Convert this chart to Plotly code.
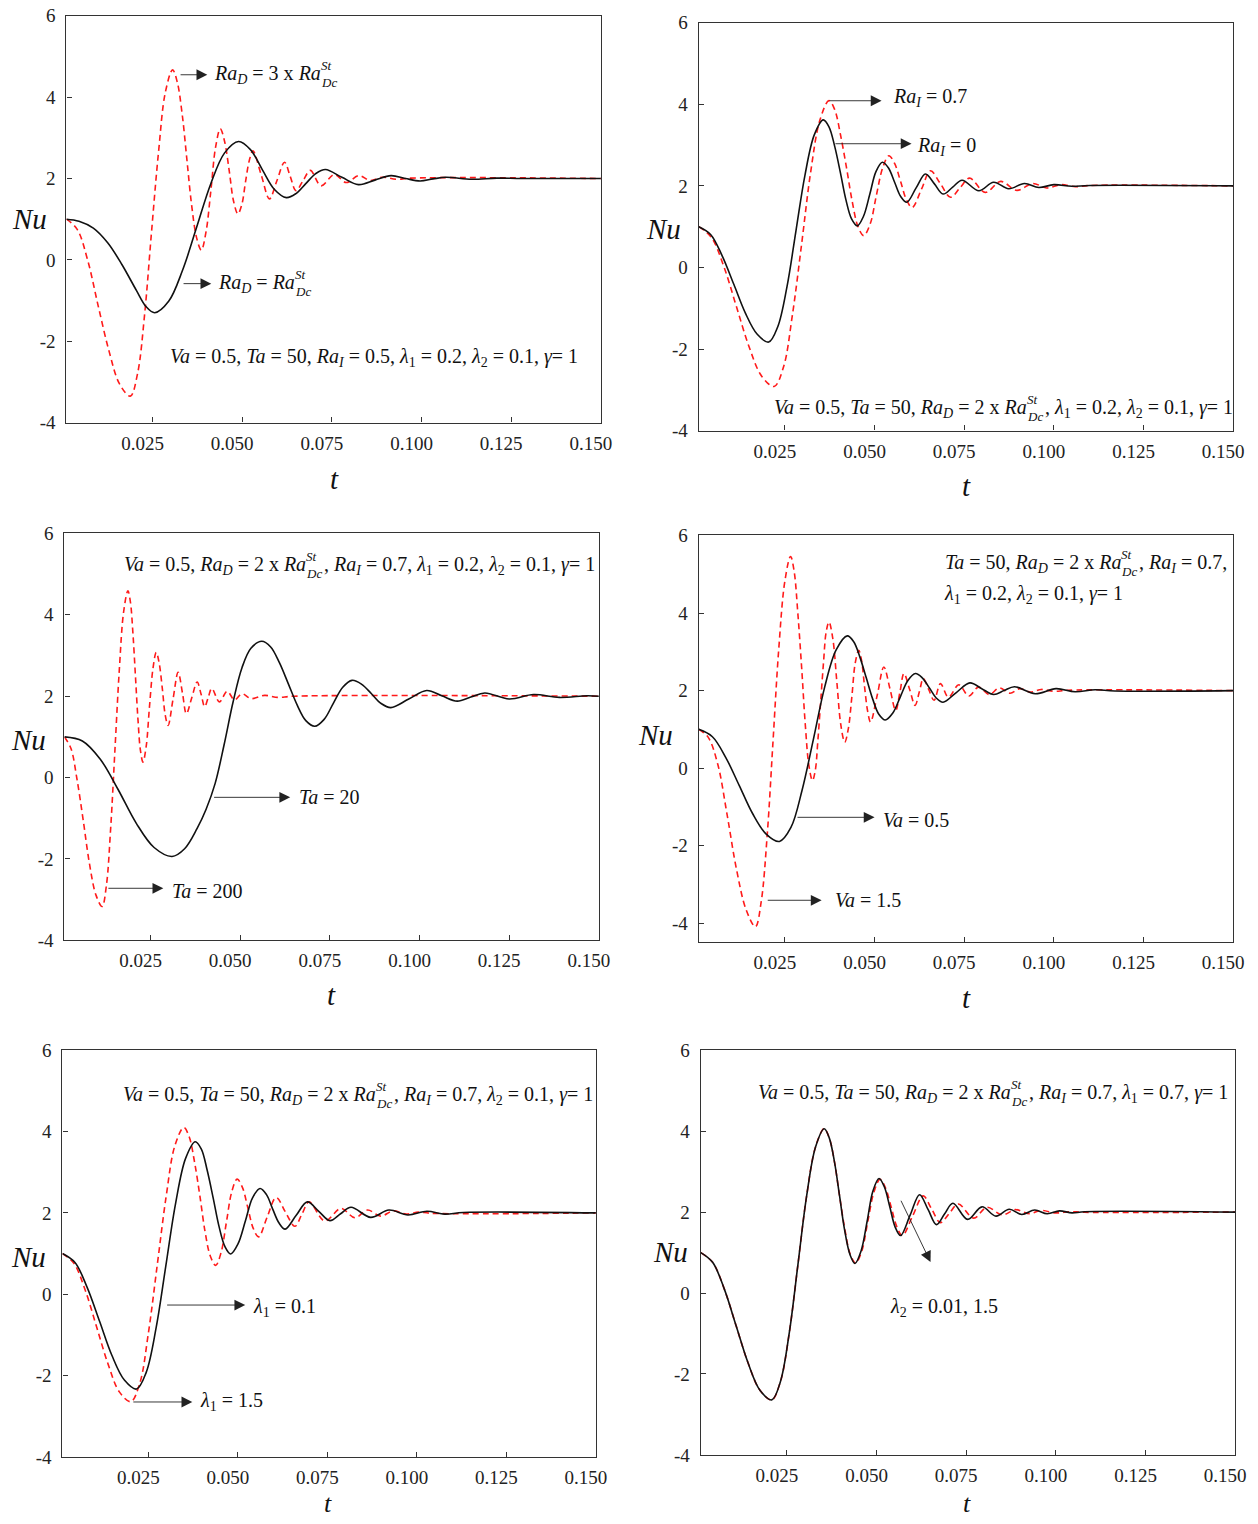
import plotly.graph_objects as go

W, H = 1258, 1524
FONT = "Liberation Serif"

# ---------------- data ----------------
x_ticks = [0.025, 0.050, 0.075, 0.100, 0.125, 0.150]
x_tick_text = ["0.025", "0.050", "0.075", "0.100", "0.125", "0.150"]
y_ticks = [-4, -2, 0, 2, 4, 6]
y_tick_text = ["-4", "-2", "0", "2", "4", "6"]

# Panel 1 : Ra_D = Ra_Dc^St (black) / Ra_D = 3 x Ra_Dc^St (red)
p1_black_t = [0.001, 0.0045, 0.0085, 0.0125, 0.0165, 0.0205, 0.0232, 0.0256, 0.0295, 0.0334, 0.0373,
              0.0412, 0.0451, 0.049, 0.0523, 0.0556, 0.059, 0.0623, 0.065, 0.0678, 0.0705, 0.0732,
              0.0778, 0.0824, 0.087, 0.0915, 0.0955, 0.0996, 0.1032, 0.1068, 0.114, 0.121, 0.128, 0.150]
p1_black_nu = [1.0, 0.95, 0.78, 0.42, -0.12, -0.75, -1.15, -1.3, -1.02, -0.25, 0.8,
               1.86, 2.63, 2.91, 2.71, 2.22, 1.73, 1.53, 1.63, 1.88, 2.12, 2.22,
               2.03, 1.85, 1.96, 2.07, 2.0, 1.94, 1.99, 2.03, 1.98, 2.01, 2.0, 2.0]
p1_red_t = [0.001, 0.004, 0.0069, 0.0099, 0.0129, 0.0158, 0.0188, 0.0208, 0.0228, 0.0247, 0.0267, 0.0286,
            0.0306, 0.0319, 0.0333, 0.0346, 0.0359, 0.0373, 0.0386, 0.0399, 0.0413, 0.0426, 0.0439,
            0.0451, 0.0464, 0.0476, 0.0488, 0.0499, 0.0509, 0.052, 0.053, 0.0553, 0.0576, 0.0597,
            0.0618, 0.0634, 0.065, 0.067, 0.069, 0.072, 0.0757, 0.079, 0.0825, 0.0858, 0.089, 0.093,
            0.097, 0.150]
p1_red_nu = [1.0, 0.75, 0.0, -1.15, -2.25, -3.05, -3.35, -2.81, -1.34, 0.66, 2.67, 4.13,
             4.67, 4.37, 3.56, 2.45, 1.35, 0.54, 0.24, 0.68, 1.73, 2.78, 3.22,
             2.91, 2.18, 1.44, 1.13, 1.36, 1.9, 2.45, 2.68, 2.09, 1.50, 1.95,
             2.40, 2.05, 1.70, 1.95, 2.2, 1.82, 2.1, 1.9, 2.07, 1.95, 2.03, 1.98,
             2.01, 2.0]

# Panel 2 : Ra_I = 0 (black) / Ra_I = 0.7 (red)
p2_black_t = [0.001, 0.0043, 0.0075, 0.0108, 0.014, 0.0173, 0.0205, 0.023, 0.0256, 0.0281, 0.0306, 0.0332,
              0.0357, 0.0373, 0.0389, 0.0405, 0.042, 0.0436, 0.0452, 0.0469, 0.0487, 0.0504, 0.0522,
              0.0539, 0.0556, 0.0573, 0.059, 0.0616, 0.0642, 0.0667, 0.0691, 0.0718, 0.0744, 0.0791,
              0.0832, 0.0874, 0.0918, 0.0958, 0.100, 0.105, 0.110, 0.150]
p2_black_nu = [1.0, 0.81, 0.29, -0.42, -1.12, -1.64, -1.83, -1.46, -0.47, 0.9, 2.26, 3.25,
               3.62, 3.45, 2.97, 2.32, 1.67, 1.19, 1.02, 1.25, 1.8, 2.35, 2.58,
               2.44, 2.09, 1.74, 1.60, 1.95, 2.29, 2.05, 1.80, 1.97, 2.14, 1.88,
               2.09, 1.93, 2.06, 1.96, 2.03, 1.99, 2.01, 2.0]
p2_red_t = [0.001, 0.0045, 0.008, 0.0115, 0.015, 0.0185, 0.022, 0.0246, 0.0271, 0.0297, 0.0322, 0.0348,
            0.0373, 0.0389, 0.0405, 0.0422, 0.0438, 0.0454, 0.047, 0.0488, 0.0505, 0.0523, 0.054,
            0.0556, 0.0573, 0.0589, 0.0605, 0.0631, 0.0656, 0.0684, 0.0712, 0.0739, 0.0765, 0.0809,
            0.0852, 0.0897, 0.0941, 0.098, 0.102, 0.106, 0.110, 0.150]
p2_red_nu = [1.0, 0.74, 0.02, -0.96, -1.94, -2.66, -2.92, -2.45, -1.17, 0.59, 2.34, 3.62,
             4.09, 3.87, 3.26, 2.44, 1.61, 1.0, 0.78, 1.07, 1.76, 2.45, 2.74,
             2.55, 2.1, 1.66, 1.47, 1.92, 2.37, 2.05, 1.72, 1.96, 2.19, 1.84,
             2.11, 1.89, 2.06, 1.95, 2.03, 1.98, 2.01, 2.0]

# Panel 3 : Ta = 20 (black) / Ta = 200 (red)
p3_black_t = [0.001, 0.006, 0.011, 0.016, 0.021, 0.026, 0.031, 0.0345, 0.038, 0.0405, 0.043, 0.0455,
              0.048, 0.0505, 0.053, 0.056, 0.0585, 0.0609, 0.0634, 0.0659, 0.0683, 0.0708, 0.0734,
              0.076, 0.0786, 0.0812, 0.0839, 0.0866, 0.0893, 0.092, 0.097, 0.102, 0.1062, 0.1105,
              0.1143, 0.1182, 0.125, 0.1318, 0.139, 0.1467, 0.150]
p3_black_nu = [1.0, 0.9, 0.45, -0.3, -1.12, -1.72, -1.94, -1.75, -1.25, -0.78, -0.15, 0.8,
               1.85, 2.7, 3.18, 3.35, 3.21, 2.83, 2.31, 1.78, 1.4, 1.26, 1.43,
               1.83, 2.22, 2.39, 2.29, 2.06, 1.82, 1.72, 1.93, 2.14, 2.01, 1.88,
               1.98, 2.08, 1.93, 2.04, 1.97, 2.01, 2.0]
p3_red_t = [0.001, 0.0028, 0.0045, 0.0063, 0.008, 0.0098, 0.0115, 0.0127, 0.0139, 0.0151, 0.0163, 0.0175,
            0.0187, 0.0194, 0.0201, 0.0208, 0.0215, 0.0222, 0.0229, 0.0238, 0.0247, 0.0257, 0.0266,
            0.0274, 0.0283, 0.0291, 0.0299, 0.0313, 0.0327, 0.0339, 0.035, 0.0365, 0.038, 0.0391,
            0.0401, 0.0411, 0.0421, 0.0442, 0.0464, 0.0484, 0.0505, 0.0531, 0.0568, 0.0605, 0.065, 0.150]
p3_red_nu = [1.0, 0.72, -0.04, -1.09, -2.13, -2.89, -3.17, -2.65, -1.23, 0.71, 2.65, 4.07,
             4.59, 4.31, 3.54, 2.49, 1.43, 0.66, 0.38, 0.77, 1.73, 2.69, 3.08,
             2.82, 2.18, 1.54, 1.28, 1.94, 2.59, 2.08, 1.57, 1.96, 2.35, 2.05,
             1.74, 1.97, 2.19, 1.86, 2.12, 1.91, 2.06, 1.94, 2.02, 1.97, 2.0, 2.0]

# Panel 4 : Va = 0.5 (black) / Va = 1.5 (red)
p4_black_t = [0.001, 0.0048, 0.0085, 0.0123, 0.016, 0.0198, 0.0235, 0.0267, 0.0298, 0.033, 0.0361, 0.0393,
              0.0424, 0.0442, 0.0459, 0.0477, 0.0495, 0.0512, 0.053, 0.0551, 0.0572, 0.0593, 0.0614,
              0.0633, 0.0653, 0.0672, 0.0691, 0.0728, 0.0766, 0.0799, 0.0832, 0.0861, 0.089, 0.0948,
              0.1006, 0.1059, 0.1115, 0.117, 0.150]
p4_black_nu = [1.0, 0.81, 0.28, -0.45, -1.17, -1.7, -1.89, -1.53, -0.57, 0.76, 2.09, 3.05,
               3.41, 3.26, 2.87, 2.33, 1.78, 1.39, 1.24, 1.42, 1.84, 2.26, 2.44,
               2.33, 2.07, 1.81, 1.70, 1.95, 2.20, 2.05, 1.90, 2.0, 2.10, 1.92,
               2.05, 1.97, 2.02, 1.99, 2.0]
p4_red_t = [0.001, 0.0036, 0.0063, 0.0089, 0.0115, 0.0142, 0.0168, 0.0184, 0.0201, 0.0217, 0.0233, 0.025,
            0.0266, 0.0276, 0.0286, 0.0297, 0.0307, 0.0317, 0.0327, 0.0335, 0.0342, 0.035, 0.0358,
            0.0365, 0.0373, 0.0384, 0.0395, 0.0406, 0.0417, 0.0427, 0.0437, 0.0446, 0.0456, 0.0464,
            0.0472, 0.0481, 0.0489, 0.0508, 0.0526, 0.0543, 0.0559, 0.0571, 0.0582, 0.0598, 0.0613,
            0.0625, 0.0636, 0.0651, 0.0666, 0.0684, 0.0706, 0.0735, 0.0763, 0.079, 0.082, 0.0848,
            0.0878, 0.0905, 0.0935, 0.0965, 0.100, 0.104, 0.150]
p4_red_nu = [1.0, 0.8, 0.1, -1.2, -2.6, -3.65, -4.09, -3.45, -1.7, 0.69, 3.07, 4.82,
             5.46, 5.07, 4.02, 2.57, 1.12, 0.07, -0.32, -0.05, 0.7, 1.73, 2.75,
             3.5, 3.77, 3.32, 2.22, 1.12, 0.67, 1.02, 1.86, 2.7, 3.04, 2.77,
             2.12, 1.46, 1.19, 1.9, 2.61, 2.05, 1.49, 1.97, 2.44, 2.03, 1.62,
             1.97, 2.31, 2.03, 1.75, 2.18, 1.83, 2.15, 1.86, 2.09, 1.9, 2.07,
             1.93, 2.05, 1.96, 2.03, 1.98, 2.01, 2.0]

# Panel 5 : lambda1 = 0.1 (black) / lambda1 = 1.5 (red)
p5_black_t = [0.001, 0.0045, 0.0079, 0.0114, 0.0148, 0.0183, 0.0217, 0.0244, 0.0272, 0.0299, 0.0326, 0.0354,
              0.0381, 0.0398, 0.0414, 0.0431, 0.0447, 0.0464, 0.048, 0.050, 0.0521, 0.0541, 0.0562,
              0.058, 0.0597, 0.0615, 0.0632, 0.0663, 0.0694, 0.0726, 0.0757, 0.0787, 0.0816, 0.0871,
              0.0922, 0.0975, 0.1028, 0.1078, 0.113, 0.150]
p5_black_nu = [1.0, 0.78, 0.17, -0.67, -1.5, -2.11, -2.33, -1.92, -0.81, 0.71, 2.23, 3.34,
               3.75, 3.57, 3.06, 2.37, 1.68, 1.17, 0.99, 1.23, 1.8, 2.37, 2.6,
               2.45, 2.1, 1.75, 1.6, 1.94, 2.27, 2.04, 1.81, 1.98, 2.14, 1.89,
               2.07, 1.95, 2.04, 1.97, 2.01, 2.0]
p5_red_t = [0.001, 0.0042, 0.0074, 0.0106, 0.0138, 0.0169, 0.0201, 0.0226, 0.025, 0.0275, 0.030, 0.0324,
            0.0349, 0.0364, 0.0379, 0.0394, 0.0408, 0.0423, 0.0438, 0.0453, 0.0468, 0.0483, 0.0498,
            0.0513, 0.0528, 0.0543, 0.0558, 0.0582, 0.0607, 0.0633, 0.0659, 0.0679, 0.0699, 0.0743,
            0.0788, 0.0827, 0.0862, 0.0899, 0.0934, 0.097, 0.1005, 0.104, 0.150]
p5_red_nu = [1.0, 0.76, 0.09, -0.82, -1.73, -2.4, -2.64, -2.19, -0.96, 0.73, 2.42, 3.65,
             4.1, 3.87, 3.25, 2.41, 1.56, 0.94, 0.71, 1.02, 1.77, 2.52, 2.83,
             2.62, 2.12, 1.62, 1.41, 1.9, 2.38, 2.02, 1.67, 1.97, 2.27, 1.80,
             2.11, 1.88, 2.07, 1.92, 2.05, 1.97, 2.02, 1.99, 2.0]

# Panel 6 : lambda2 = 0.01 (black) / lambda2 = 1.5 (red)
p6_black_t = [0.001, 0.0043, 0.0076, 0.0109, 0.0142, 0.0175, 0.0208, 0.0232, 0.0257, 0.0281, 0.0305, 0.033,
              0.0354, 0.0368, 0.0383, 0.0397, 0.0411, 0.0426, 0.044, 0.0457, 0.0474, 0.049, 0.0507,
              0.0522, 0.0537, 0.0552, 0.0567, 0.0594, 0.062, 0.0644, 0.0667, 0.069, 0.0713, 0.0754,
              0.0794, 0.0833, 0.087, 0.0905, 0.0941, 0.0976, 0.101, 0.1045, 0.108, 0.150]
p6_black_nu = [1.0, 0.76, 0.09, -0.82, -1.73, -2.4, -2.64, -2.19, -0.97, 0.71, 2.39, 3.61,
               4.06, 3.84, 3.23, 2.4, 1.56, 0.95, 0.73, 1.04, 1.78, 2.52, 2.83,
               2.62, 2.13, 1.63, 1.42, 1.93, 2.43, 2.06, 1.69, 1.96, 2.22, 1.82,
               2.13, 1.90, 2.07, 1.94, 2.05, 1.96, 2.03, 1.98, 2.01, 2.0]
p6_red_t = [0.001, 0.0043, 0.0076, 0.0109, 0.0142, 0.0175, 0.0208, 0.0232, 0.0257, 0.0281, 0.0305, 0.033,
            0.0354, 0.0368, 0.0383, 0.0397, 0.0412, 0.0427, 0.0442, 0.0459, 0.0476, 0.0493, 0.051,
            0.0525, 0.0541, 0.0557, 0.0572, 0.0601, 0.063, 0.0654, 0.0678, 0.0703, 0.0728, 0.0771,
            0.0808, 0.0851, 0.0887, 0.0927, 0.0958, 0.100, 0.104, 0.108, 0.150]
p6_red_nu = [1.0, 0.76, 0.09, -0.82, -1.73, -2.4, -2.64, -2.19, -0.97, 0.71, 2.39, 3.61,
             4.06, 3.84, 3.23, 2.4, 1.56, 0.95, 0.74, 1.04, 1.78, 2.5, 2.81,
             2.6, 2.12, 1.63, 1.42, 1.91, 2.40, 2.07, 1.74, 1.97, 2.20, 1.85,
             2.12, 1.93, 2.06, 1.96, 2.04, 1.98, 2.01, 1.995, 2.0]

series = [
    (p1_black_t, p1_black_nu, p1_red_t, p1_red_nu),
    (p2_black_t, p2_black_nu, p2_red_t, p2_red_nu),
    (p3_black_t, p3_black_nu, p3_red_t, p3_red_nu),
    (p4_black_t, p4_black_nu, p4_red_t, p4_red_nu),
    (p5_black_t, p5_black_nu, p5_red_t, p5_red_nu),
    (p6_black_t, p6_black_nu, p6_red_t, p6_red_nu),
]


# page-pixel calibration (positions measured on the reference picture)
def X(px):
    return (px + 1.5) / 0.9923


def Y(py):
    return (py - 9.2) / 0.9868


panels = [
    dict(x0=65, x1=600, y0=15, y1=422, yr=[-4, 6], nu=(28, 218), t=(333, 478)),
    dict(x0=698, x1=1233, y0=22, y1=430, yr=[-4, 6], nu=(663, 228), t=(966, 485)),
    dict(x0=63, x1=598, y0=533, y1=940, yr=[-4, 6], nu=(27, 740), t=(330, 995)),
    dict(x0=698, x1=1233, y0=535, y1=942, yr=[-4.49, 6], nu=(655, 735), t=(966, 998)),
    dict(x0=61, x1=595, y0=1050, y1=1457, yr=[-4, 6], nu=(27, 1257), t=(327, None)),
    dict(x0=700, x1=1235, y0=1050, y1=1455, yr=[-4, 6], nu=(670, 1252), t=(967, None)),
]

fig = go.Figure()
layout = dict(width=W, height=H, margin=dict(l=0, r=0, t=0, b=0),
              paper_bgcolor="white", plot_bgcolor="white", showlegend=False)

for i, (p, s) in enumerate(zip(panels, series), start=1):
    sfx = "" if i == 1 else str(i)
    xa, ya = "x" + sfx, "y" + sfx
    bt, bn, rt, rn = s
    fig.add_trace(go.Scatter(x=rt, y=rn, mode="lines", xaxis=xa, yaxis=ya,
                             line=dict(color="#ff1a1a", width=1.6, dash="6px,4px",
                                       shape="spline", smoothing=1.0)))
    fig.add_trace(go.Scatter(x=bt, y=bn, mode="lines", xaxis=xa, yaxis=ya,
                             line=dict(color="#111111", width=1.6, shape="spline", smoothing=1.0)))
    common = dict(showline=True, mirror=True, linecolor="#333", linewidth=1.3,
                  ticks="inside", ticklen=5, tickwidth=1, tickcolor="#333",
                  showgrid=False, zeroline=False,
                  tickfont=dict(family=FONT, size=19, color="#222"))
    layout["xaxis" + sfx] = dict(domain=[X(p["x0"]) / W, X(p["x1"]) / W], anchor=ya,
                                 range=[0.001, 0.150], tickvals=x_ticks, ticktext=x_tick_text,
                                 ticklabelshift=-10, ticklabelstandoff=3, **common)
    layout["yaxis" + sfx] = dict(domain=[1 - Y(p["y1"]) / H, 1 - Y(p["y0"]) / H], anchor=xa,
                                 range=p["yr"], tickvals=y_ticks, ticktext=y_tick_text,
                                 ticklabelstandoff=6, **common)

fig.update_layout(**layout)


def txt(x, y, text, size=20, xanchor="left"):
    fig.add_annotation(x=X(x) / W, y=1 - Y(y) / H, xref="paper", yref="paper", text=text,
                       showarrow=False, xanchor=xanchor, yanchor="middle", borderpad=0,
                       font=dict(family=FONT, size=size, color="#111"))


def arrow(tx, ty, hx, hy):
    fig.add_annotation(x=X(hx) / W, y=1 - Y(hy) / H, xref="paper", yref="paper",
                       ax=X(tx) - X(hx), ay=Y(ty) - Y(hy), text="", showarrow=True,
                       arrowhead=2, arrowsize=2.4, arrowwidth=0.9, arrowcolor="#222")


def stack(x, y):
    txt(x - 2, y - 9, "<i>St</i>", size=13)
    txt(x - 2, y + 8, "<i>Dc</i>", size=13)


RaD = "<i>Ra</i><sub><i>D</i></sub>"
RaI = "<i>Ra</i><sub><i>I</i></sub>"
L1 = "<i>λ</i><sub>1</sub>"
L2 = "<i>λ</i><sub>2</sub>"
G = "<i>γ</i>"

# axis titles
for p in panels:
    txt(p["nu"][0], p["nu"][1], "<i>Nu</i>", size=29, xanchor="center")
    if p["t"][1] is not None:
        txt(p["t"][0], p["t"][1], "<i>t</i>", size=29, xanchor="center")
    else:
        # bottom row: the label sits on the page's lower edge, as in the reference
        fig.add_annotation(x=X(p["t"][0]) / W, y=0, xref="paper", yref="paper",
                           text="<i>t</i>", showarrow=False, xanchor="center",
                           yanchor="bottom", borderpad=0, yshift=-6,
                           font=dict(family=FONT, size=26, color="#111"))

# Panel 1
arrow(178, 74, 206, 74)
txt(321, 74, f"{RaD} = 3 x <i>Ra</i>", xanchor="right")
stack(321, 74)
arrow(181, 283, 210, 283)
txt(295, 283, f"{RaD} = <i>Ra</i>", xanchor="right")
stack(295, 283)
txt(168, 357, f"<i>Va</i> = 0.5, <i>Ta</i> = 50, {RaI} = 0.5, {L1} = 0.2, {L2} = 0.1, {G}= 1")

# Panel 2
arrow(828, 100, 881, 100)
txt(891, 97, f"{RaI} = 0.7")
arrow(834, 143, 911, 143)
txt(915, 146, f"{RaI} = 0")
txt(1028, 408, f"<i>Va</i> = 0.5, <i>Ta</i> = 50, {RaD} = 2 x <i>Ra</i>", xanchor="right")
stack(1028, 408)
txt(1044, 408, f", {L1} = 0.2, {L2} = 0.1, {G}= 1")

# Panel 3
txt(306, 565, f"<i>Va</i> = 0.5, {RaD} = 2 x <i>Ra</i>", xanchor="right")
stack(306, 565)
txt(322, 565, f", {RaI} = 0.7, {L1} = 0.2, {L2} = 0.1, {G}= 1")
arrow(212, 797, 289, 797)
txt(297, 797, "<i>Ta</i> = 20")
arrow(106, 888, 162, 888)
txt(170, 891, "<i>Ta</i> = 200")

# Panel 4
txt(1122, 563, f"<i>Ta</i> = 50, {RaD} = 2 x <i>Ra</i>", xanchor="right")
stack(1122, 563)
txt(1138, 563, f", {RaI} = 0.7,")
txt(942, 594, f"{L1} = 0.2, {L2} = 0.1, {G}= 1")
arrow(796, 817, 874, 817)
txt(881, 820, "<i>Va</i> = 0.5")
arrow(766, 900, 821, 900)
txt(833, 900, "<i>Va</i> = 1.5")

# Panel 5
txt(376, 1095, f"<i>Va</i> = 0.5, <i>Ta</i> = 50, {RaD} = 2 x <i>Ra</i>", xanchor="right")
stack(376, 1095)
txt(392, 1095, f", {RaI} = 0.7, {L2} = 0.1, {G}= 1")
arrow(165, 1305, 244, 1305)
txt(251, 1307, f"{L1} = 0.1")
arrow(131, 1402, 191, 1402)
txt(198, 1402, f"{L1} = 1.5")

# Panel 6
txt(1012, 1093, f"<i>Va</i> = 0.5, <i>Ta</i> = 50, {RaD} = 2 x <i>Ra</i>", xanchor="right")
stack(1012, 1093)
txt(1028, 1093, f", {RaI} = 0.7, {L1} = 0.7, {G}= 1")
arrow(900, 1200, 930, 1262)
txt(888, 1307, f"{L2} = 0.01, 1.5")

fig.write_html("out.html", config={"displayModeBar": False},
               post_script="document.body.style.margin='0px';")
